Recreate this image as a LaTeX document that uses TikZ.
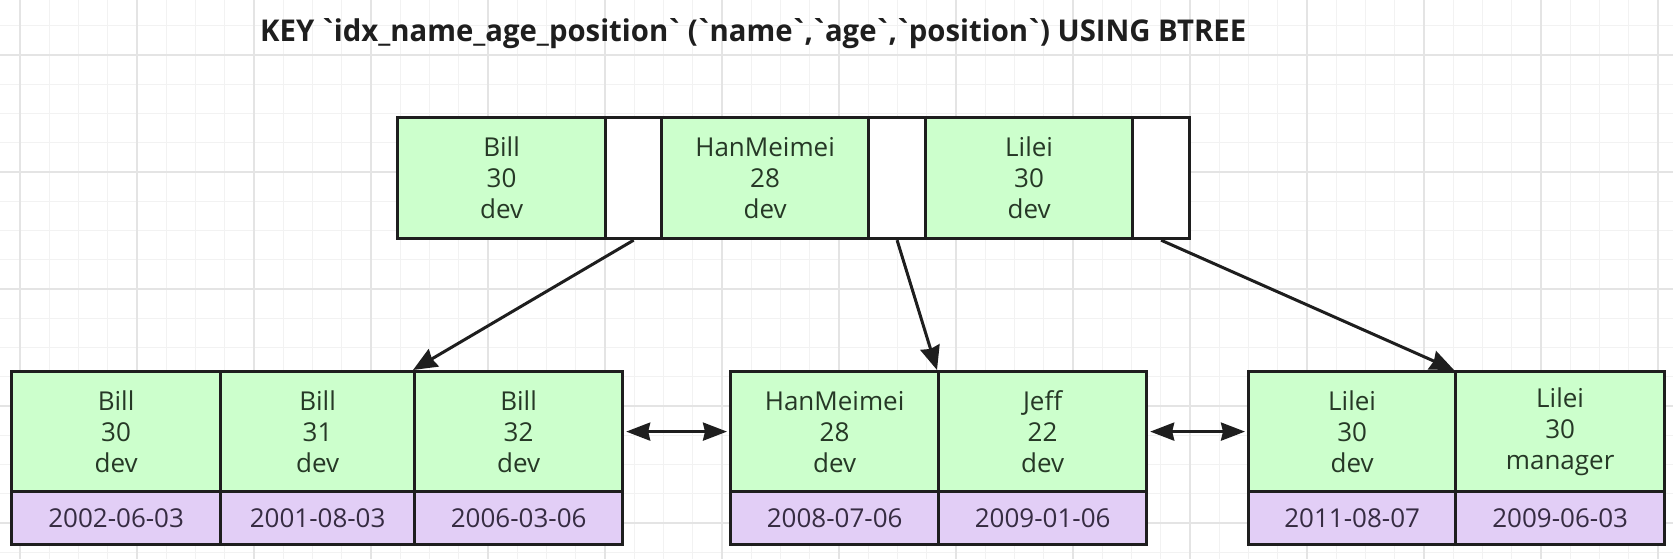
\documentclass[tikz,border=0pt]{standalone}
\usepackage{fontspec}
\usepackage{graphicx}
\setmainfont{Open Sans}
\newfontfamily\titlefont{Open Sans}[Ligatures=TeXOff]
\newcommand\bq{\kern-0.1em`\kern-0.1em}
\usetikzlibrary{arrows.meta}
\definecolor{gfill}{HTML}{CCFFCC}
\definecolor{pfill}{HTML}{E2CEF6}
\definecolor{edge}{HTML}{1E1E1E}
\definecolor{gtext}{HTML}{263826}
\definecolor{ptext}{HTML}{362C42}
\definecolor{gridmin}{HTML}{F2F2F2}
\definecolor{gridmaj}{HTML}{E4E4E4}
\begin{document}
\begin{tikzpicture}[x=1pt,y=-1pt,
  cell/.style={draw=edge, line width=3.2pt, inner sep=0pt, anchor=north west, align=center,
    font=\fontsize{26}{31}\selectfont},
  gcell/.style={cell, fill=gfill, text=gtext, minimum height=121pt},
  wcell/.style={cell, fill=white, minimum height=121pt},
  bgcell/.style={cell, fill=gfill, text=gtext, minimum height=120pt},
  pcell/.style={cell, fill=pfill, text=ptext, minimum height=53pt},
  conn/.style={draw=edge, line width=3pt, -{Stealth[length=24pt,width=20pt,inset=2pt]}},
  dbl/.style={draw=edge, line width=3pt, {Stealth[length=24pt,width=18pt,inset=2pt]}-{Stealth[length=24pt,width=18pt,inset=2pt]}, shorten <=2pt, shorten >=2pt}]
\fill[white] (0,0) rectangle (1673,559);
\useasboundingbox (0,0) rectangle (1673,559);
% grid
\foreach \k in {0,...,56}{\draw[gridmin, line width=1pt] ({20+29.25*\k},0) -- ({20+29.25*\k},559);}
\foreach \k in {-1,...,17}{\draw[gridmin, line width=1pt] (0,{55+29.25*\k}) -- (1673,{55+29.25*\k});}
\foreach \k in {0,4,...,56}{\draw[gridmaj, line width=1.2pt] ({20+29.25*\k},0) -- ({20+29.25*\k},559);}
\foreach \k in {0,4,...,16}{\draw[gridmaj, line width=1.2pt] (0,{55+29.25*\k}) -- (1673,{55+29.25*\k});}
% title
\node[anchor=base west, inner sep=0pt, text=edge] (title) at (260,42)
  {\resizebox{986pt}{\height}{\titlefont\bfseries\fontsize{30}{36}\selectfont KEY \bq idx\_name\_age\_position\bq{} (\bq name\bq,\bq age\bq,\bq position\bq) USING BTREE}};
% top node
\node[gcell, minimum width=208pt] (t1) at (396,116) {Bill\\30\\dev};
\node[wcell, minimum width=56pt] (w1) at (604,116) {};
\node[gcell, minimum width=207pt] (t2) at (660,116) {HanMeimei\\28\\dev};
\node[wcell, minimum width=57pt] (w2) at (867,116) {};
\node[gcell, minimum width=207pt] (t3) at (924,116) {Lilei\\30\\dev};
\node[wcell, minimum width=57pt] (w3) at (1131,116) {};
% left leaf
\node[bgcell, minimum width=209pt] (a1) at (10,370) {Bill\\30\\dev};
\node[bgcell, minimum width=194pt] (a2) at (219,370) {Bill\\31\\dev};
\node[bgcell, minimum width=208pt] (a3) at (413,370) {Bill\\32\\dev};
\node[pcell, minimum width=209pt] (a1d) at (10,490) {2002-06-03};
\node[pcell, minimum width=194pt] (a2d) at (219,490) {2001-08-03};
\node[pcell, minimum width=208pt] (a3d) at (413,490) {2006-03-06};
% middle leaf
\node[bgcell, minimum width=208pt] (b1) at (729,370) {HanMeimei\\28\\dev};
\node[bgcell, minimum width=208pt] (b2) at (937,370) {Jeff\\22\\dev};
\node[pcell, minimum width=208pt] (b1d) at (729,490) {2008-07-06};
\node[pcell, minimum width=208pt] (b2d) at (937,490) {2009-01-06};
% right leaf
\node[bgcell, minimum width=207pt] (c1) at (1247,370) {Lilei\\30\\dev};
\node[bgcell, minimum width=209pt] (c2) at (1454,370) {Lilei\\30\\manager};
\node[pcell, minimum width=207pt] (c1d) at (1247,490) {2011-08-07};
\node[pcell, minimum width=209pt] (c2d) at (1454,490) {2009-06-03};
% connectors
\draw[conn] (w1.south) -- (a3.north west);
\draw[conn] (w2.south) -- (b2.north west);
\draw[conn] (w3.south) -- (c2.north west);
\draw[dbl] (a3.east) -- (b1.west);
\draw[dbl] (b2.east) -- (c1.west);
\end{tikzpicture}
\end{document}
